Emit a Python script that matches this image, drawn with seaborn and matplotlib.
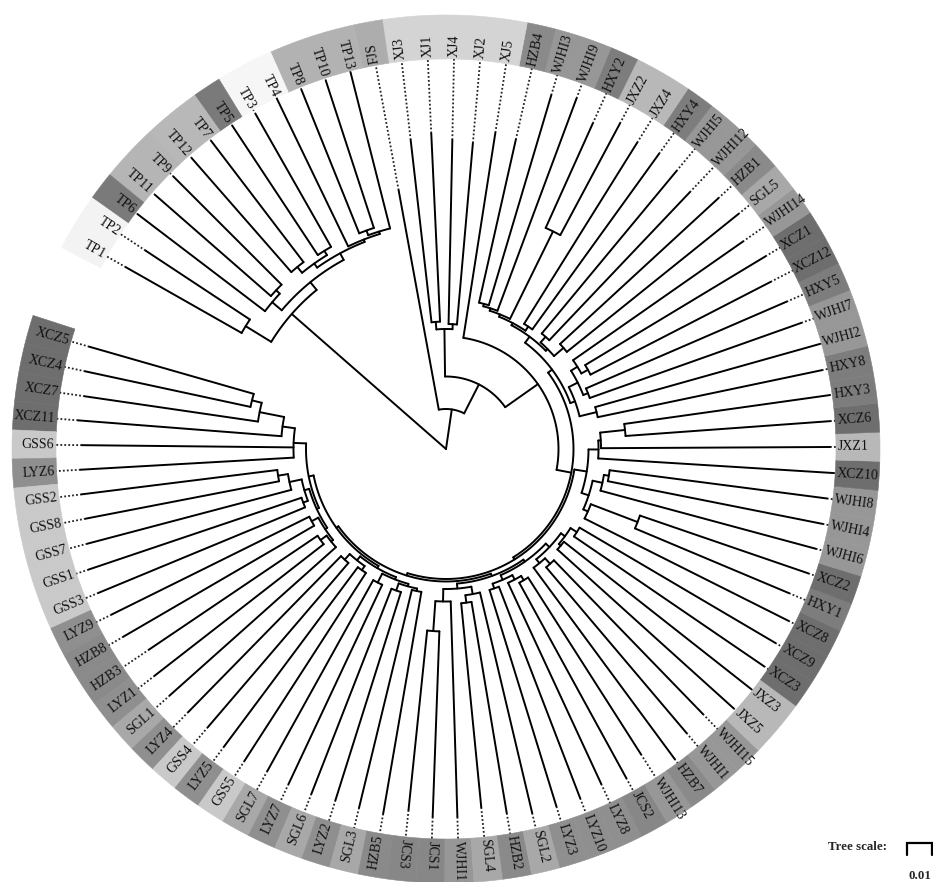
import re
import numpy as np
import pandas as pd
import matplotlib
matplotlib.use("Agg")
import matplotlib.pyplot as plt
from matplotlib.patches import Wedge
import seaborn as sns

# ---------------- tree topology (Newick pieces, branch lengths in subst./site) ----------------
clade_xcz_left = "((((XCZ5,XCZ4):0.004,XCZ7):0.010,XCZ11):0.005,GSS6,LYZ6):0.005"
clade_gss = ("((((GSS2,GSS8):0.004,GSS7):0.005,(GSS1,GSS3):0.002):0.002,"
             "((LYZ9,HZB8):0.003,((HZB3,LYZ1):0.003,SGL1):0.001):0.001):0.001")
clade_lyz_sgl = ("(((LYZ4,GSS4):0.003,(LYZ5,GSS5):0.002):0.002,"
                 "((SGL7,LYZ7):0.004,((SGL6,LYZ2):0.003,(SGL3,HZB5):0.001):0.001):0.001):0.001")
clade_jcs = "(((JCS3,JCS1):0.012,WJHI11):0.005,((SGL4,HZB2):0.003,SGL2):0.003):0.002"
clade_lower_right = ("(((LYZ3,LYZ10):0.002,(LYZ8,(JCS2,WJHI13):0.002):0.002):0.002,"
                     "((HZB7,(WJHI1,WJHI15):0.003):0.002,((JXZ5,JXZ3):0.001,(XCZ3,XCZ9):0.003):0.002):0.002):0.001")
clade_right = ("(((XCZ8,(HXY1,XCZ2):0.020):0.002,(WJHI6,(WJHI4,WJHI8):0.002):0.004):0.003,"
               "(XCZ10,(JXZ1,(XCZ6,HXY3):0.010):0.001):0.004):0.005")
clade_upper_right = ("(((HXY8,WJHI2):0.007,((WJHI7,HXY5):0.002,((XCZ12,XCZ1):0.003,WJHI14):0.003):0.004):0.002,"
                     "(((SGL5,HZB1):0.005,(WJHI12,WJHI5):0.003):0.001,((HXY4,JXZ4):0.002,"
                     "((JXZ2,HXY2):0.039,(WJHI9,(WJHI3,HZB4):0.001):0.001):0.001):0.001):0.003):0.002")
clade_xj = "((XJ2,XJ4):0.002,(XJ1,XJ3):0.003):0.019"
clade_tp = ("(((((TP13,(TP10,TP8):0.002):0.001,TP4):0.001,((TP3,TP5):0.002,(TP7,TP12):0.003):0.002):0.003,"
            "((TP9,TP11):0.002,TP6):0.005):0.004,(TP2,TP1):0.012):0.082")

newick = (f"((((((((({clade_xcz_left},{clade_gss}):0.002,{clade_lyz_sgl}):0.001,"
          f"({clade_jcs},{clade_lower_right}):0.001):0.001,{clade_right}):0.001,"
          f"{clade_upper_right}):0.006,XJ5):0.016,{clade_xj}):0.013,FJS):0.016,{clade_tp});")

# root-to-tip distance of every isolate (in drawing order)
tip_names = ["XCZ5", "XCZ4", "XCZ7", "XCZ11", "GSS6", "LYZ6", "GSS2", "GSS8", "GSS7", "GSS1",
             "GSS3", "LYZ9", "HZB8", "HZB3", "LYZ1", "SGL1", "LYZ4", "GSS4", "LYZ5", "GSS5",
             "SGL7", "LYZ7", "SGL6", "LYZ2", "SGL3", "HZB5", "JCS3", "JCS1", "WJHI11", "SGL4",
             "HZB2", "SGL2", "LYZ3", "LYZ10", "LYZ8", "JCS2", "WJHI13", "HZB7", "WJHI1", "WJHI15",
             "JXZ5", "JXZ3", "XCZ3", "XCZ9", "XCZ8", "HXY1", "XCZ2", "WJHI6", "WJHI4", "WJHI8",
             "XCZ10", "JXZ1", "XCZ6", "HXY3", "HXY8", "WJHI2", "WJHI7", "HXY5", "XCZ12", "XCZ1",
             "WJHI14", "SGL5", "HZB1", "WJHI12", "WJHI5", "HXY4", "JXZ4", "JXZ2", "HXY2", "WJHI9",
             "WJHI3", "HZB4", "XJ5", "XJ2", "XJ4", "XJ1", "XJ3", "FJS", "TP13", "TP10",
             "TP8", "TP4", "TP3", "TP5", "TP7", "TP12", "TP9", "TP11", "TP6", "TP2", "TP1"]
tip_depth = [0.1484, 0.1476, 0.1460, 0.1476, 0.1456, 0.1464, 0.1468, 0.1468, 0.1484, 0.1508,
             0.1504, 0.1492, 0.1492, 0.1432, 0.1476, 0.1480, 0.1472, 0.1464, 0.1484, 0.1484,
             0.1472, 0.1480, 0.1480, 0.1472, 0.1476, 0.1480, 0.1452, 0.1472, 0.1472, 0.1440,
             0.1476, 0.1496, 0.1496, 0.1496, 0.1476, 0.1500, 0.1448, 0.1540, 0.1488, 0.1476,
             0.1548, 0.1552, 0.1540, 0.1528, 0.1532, 0.1488, 0.1532, 0.1532, 0.1536, 0.1536,
             0.1552, 0.1536, 0.1540, 0.1548, 0.1536, 0.1552, 0.1508, 0.1484, 0.1460, 0.1492,
             0.1448, 0.1500, 0.1480, 0.1416, 0.1444, 0.1456, 0.1444, 0.1476, 0.1428, 0.1496,
             0.1476, 0.1268, 0.1280, 0.1228, 0.1236, 0.1264, 0.1244, 0.1052, 0.1552, 0.1548,
             0.1548, 0.1556, 0.1540, 0.1548, 0.1548, 0.1544, 0.1540, 0.1544, 0.1548, 0.1440,
             0.1472]

# grey shade of the outer ring, per population
group_shade = {"XCZ": "#6e6e6e", "HXY": "#7d7d7d", "HZB": "#8a8a8a", "JCS": "#878787",
               "WJHI": "#979797", "LYZ": "#8f8f8f", "SGL": "#a8a8a8", "JXZ": "#b8b8b8",
               "GSS": "#c9c9c9", "XJ": "#d4d4d4", "FJS": "#adadad"}
tp_shade = {"TP1": "#f3f3f3", "TP2": "#f3f3f3", "TP6": "#7a7a7a", "TP11": "#b5b5b5",
            "TP9": "#b5b5b5", "TP12": "#b8b8b8", "TP7": "#b8b8b8", "TP5": "#7a7a7a",
            "TP3": "#f6f6f6", "TP4": "#f6f6f6", "TP8": "#b2b2b2", "TP10": "#b2b2b2",
            "TP13": "#b2b2b2"}

scale_value = 0.01

# ---------------- layout ----------------
W, H = 933, 882
CX, CY = 446.0, 882 - 449.0
PX_PER_UNIT = 2500.0
ARC_START = 164.0      # degrees, first isolate
ARC_STEP = 3.849       # degrees between neighbouring isolates
LABEL_R = 0.1568
RING_IN, RING_OUT = 0.1560, 0.1736
FLIP_LO, FLIP_HI = 102.0, 262.0


def parse_newick(s):
    pos = 0

    def node():
        nonlocal pos
        children = []
        if s[pos] == "(":
            pos += 1
            children.append(node())
            while s[pos] == ",":
                pos += 1
                children.append(node())
            pos += 1  # ')'
        start = pos
        while pos < len(s) and s[pos] not in ",():;":
            pos += 1
        name = s[start:pos]
        length = 0.0
        if pos < len(s) and s[pos] == ":":
            pos += 1
            start = pos
            while pos < len(s) and s[pos] not in ",();":
                pos += 1
            length = float(s[start:pos])
        return {"name": name, "children": children, "length": length}

    return node()


tree = parse_newick(newick)
depth_of = dict(zip(tip_names, tip_depth))
leaves = []


def layout(n, parent_depth):
    if n["children"]:
        n["depth"] = parent_depth + n["length"]
        for c in n["children"]:
            layout(c, n["depth"])
        n["angle"] = 0.5 * (n["children"][0]["angle"] + n["children"][-1]["angle"])
    else:
        n["depth"] = depth_of[n["name"]]
        n["angle"] = ARC_START + len(leaves) * ARC_STEP
        leaves.append(n)


layout(tree, 0.0)


def polar(r, th):
    t = np.deg2rad(th)
    return CX + r * PX_PER_UNIT * np.cos(t), CY + r * PX_PER_UNIT * np.sin(t)


branch_rows, dot_rows = [], []
seg_id = [0]


def add(rows, pts):
    for x, y in pts:
        rows.append((seg_id[0], x, y))
    seg_id[0] += 1


def walk(n, parent_depth):
    add(branch_rows, [polar(parent_depth, n["angle"]), polar(n["depth"], n["angle"])])
    if n["children"]:
        a0, a1 = n["children"][0]["angle"], n["children"][-1]["angle"]
        k = max(2, int(abs(a1 - a0) / 0.4) + 2)
        add(branch_rows, [polar(n["depth"], a) for a in np.linspace(a0, a1, k)])
        for c in n["children"]:
            walk(c, n["depth"])
    elif n["depth"] < RING_IN:
        add(dot_rows, [polar(n["depth"], n["angle"]), polar(RING_IN, n["angle"])])


for child in tree["children"]:
    walk(child, 0.0)

branches = pd.DataFrame(branch_rows, columns=["seg", "x", "y"])
dots = pd.DataFrame(dot_rows, columns=["seg", "x", "y"])

# ---------------- drawing ----------------
sns.set_theme(style="white")
plt.rcParams["font.family"] = ["Liberation Serif", "DejaVu Serif"]

fig = plt.figure(figsize=(W / 100, H / 100), dpi=100)
ax = fig.add_axes([0, 0, 1, 1])

# outer coloured ring
for leaf in leaves:
    name = leaf["name"]
    shade = tp_shade.get(name) or group_shade[re.match(r"[A-Z]+", name).group(0)]
    th = leaf["angle"]
    ax.add_patch(Wedge((CX, CY), RING_OUT * PX_PER_UNIT, th - ARC_STEP / 2, th + ARC_STEP / 2,
                       width=(RING_OUT - RING_IN) * PX_PER_UNIT, facecolor=shade,
                       edgecolor=shade, linewidth=0.4, zorder=1))

sns.lineplot(data=dots, x="x", y="y", units="seg", estimator=None, sort=False,
             color="#222222", linewidth=1.3, linestyle=(0, (1, 1.2)), ax=ax, legend=False, zorder=2)
sns.lineplot(data=branches, x="x", y="y", units="seg", estimator=None, sort=False,
             color="black", linewidth=1.4, ax=ax, legend=False, zorder=3)

for leaf in leaves:
    th = leaf["angle"]
    flip = FLIP_LO < (th % 360) < FLIP_HI
    x, y = polar(LABEL_R, th)
    ax.text(x, y, leaf["name"], rotation=(th - 180) if flip else th, rotation_mode="anchor",
            ha="right" if flip else "left", va="center", fontsize=10, color="#111111", zorder=4)

# tree scale
bar_x0 = 907.0
bar_x1 = bar_x0 + scale_value * PX_PER_UNIT
ax.plot([bar_x0, bar_x0, bar_x1, bar_x1], [27, 39, 39, 27], color="black", linewidth=1.6,
        solid_joinstyle="miter")
ax.text(887, 35, "Tree scale:", ha="right", va="center", fontsize=9.3, fontweight="bold")
ax.text((bar_x0 + bar_x1) / 2, 6, f"{scale_value:g}", ha="center", va="center",
        fontsize=9.3, fontweight="bold")

ax.set_xlim(0, W)
ax.set_ylim(0, H)
ax.axis("off")
fig.savefig("out.png", dpi=100, facecolor="white")
